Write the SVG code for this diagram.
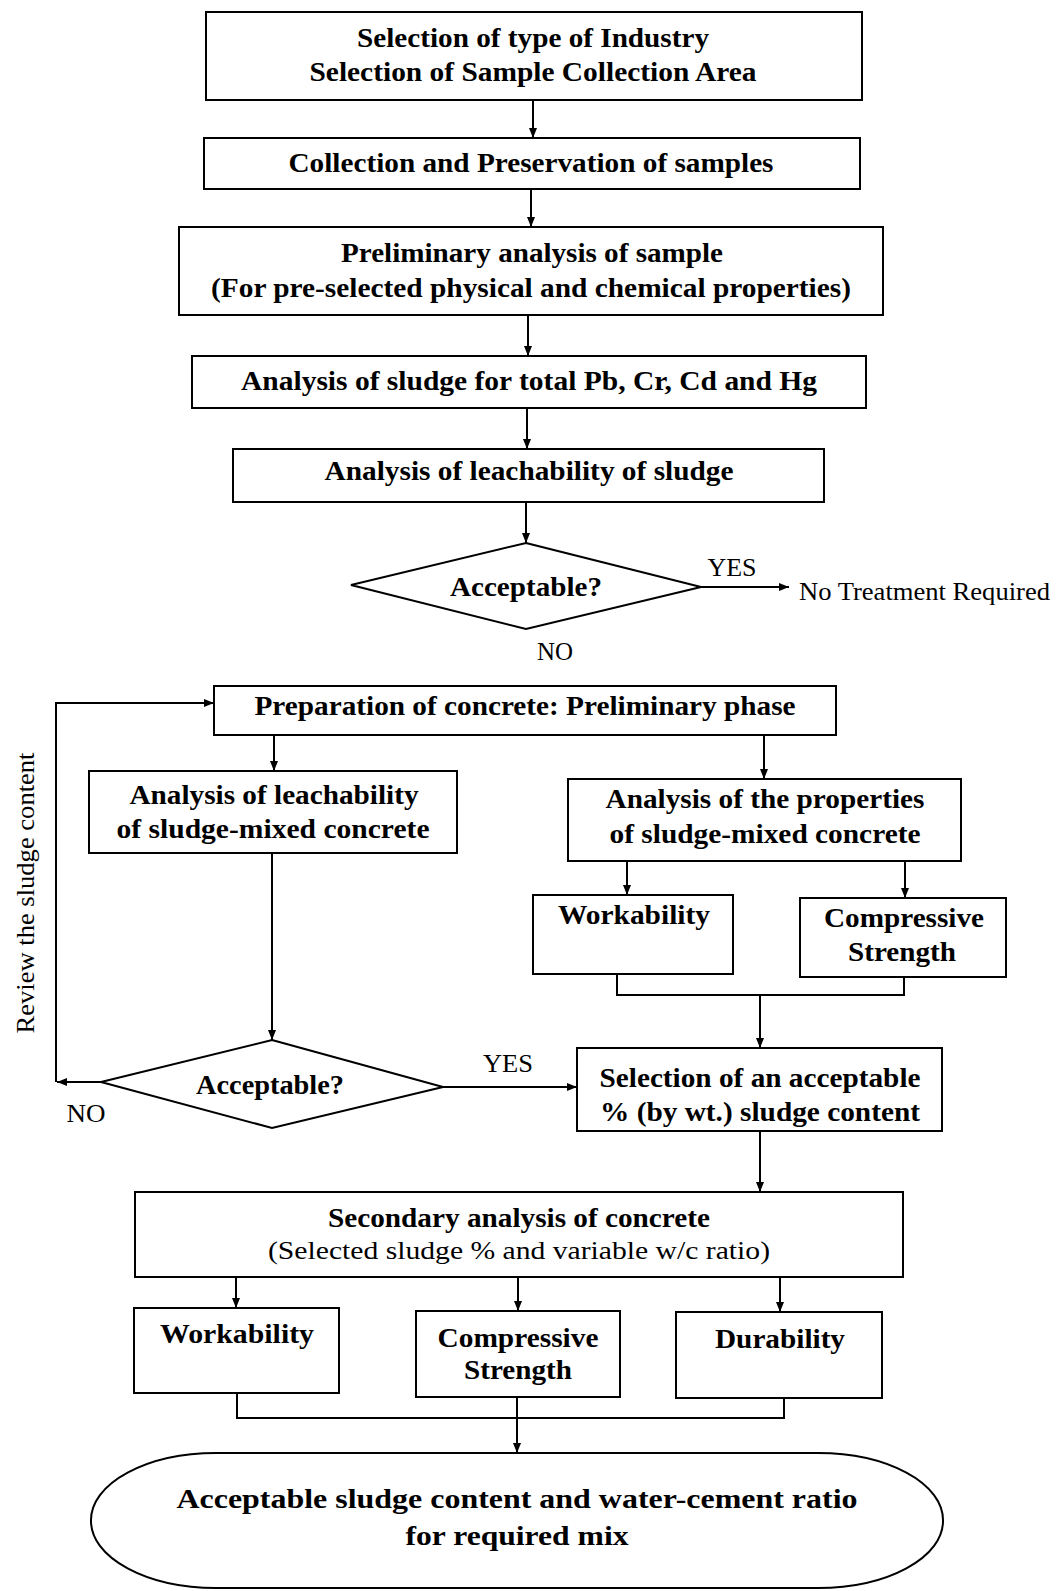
<svg xmlns="http://www.w3.org/2000/svg" width="1056" height="1591" viewBox="0 0 1056 1591">
<defs>
<style>
.b{fill:#fff;stroke:#000;stroke-width:2}
.t{font-family:"Liberation Serif","Times New Roman",serif;font-weight:bold;font-size:28px;text-anchor:middle;fill:#000}
.r{font-family:"Liberation Serif","Times New Roman",serif;font-size:25px;text-anchor:middle;fill:#000}
.c{fill:none;stroke:#000;stroke-width:2}
</style>
<marker id="ah" viewBox="0 0 10 8" refX="10" refY="4" markerWidth="11" markerHeight="8" markerUnits="userSpaceOnUse" orient="auto"><path d="M0,0 L10,4 L0,8 z" fill="#000"/></marker>
</defs>
<rect width="1056" height="1591" fill="#fff"/>

<g id="connectors">
<path class="c" d="M533 100 V138" marker-end="url(#ah)"/>
<path class="c" d="M531 189 V227" marker-end="url(#ah)"/>
<path class="c" d="M528 315 V356" marker-end="url(#ah)"/>
<path class="c" d="M527 408 V449" marker-end="url(#ah)"/>
<path class="c" d="M526 502 V543" marker-end="url(#ah)"/>
<path class="c" d="M701 587 H789" marker-end="url(#ah)"/>
<path class="c" d="M274 735 V771" marker-end="url(#ah)"/>
<path class="c" d="M764 735 V779" marker-end="url(#ah)"/>
<path class="c" d="M101 1082 H57" marker-end="url(#ah)"/>
<path class="c" d="M56 1082 V703 H214" marker-end="url(#ah)"/>
<path class="c" d="M272 853 V1040" marker-end="url(#ah)"/>
<path class="c" d="M627 861 V895" marker-end="url(#ah)"/>
<path class="c" d="M905 861 V898" marker-end="url(#ah)"/>
<path class="c" d="M617 974 V995 H904 V977"/>
<path class="c" d="M760 995 V1048" marker-end="url(#ah)"/>
<path class="c" d="M443 1087 H577" marker-end="url(#ah)"/>
<path class="c" d="M760 1131 V1192" marker-end="url(#ah)"/>
<path class="c" d="M236 1277 V1308" marker-end="url(#ah)"/>
<path class="c" d="M518 1277 V1311" marker-end="url(#ah)"/>
<path class="c" d="M780 1277 V1312" marker-end="url(#ah)"/>
<path class="c" d="M237 1393 V1418 H784 V1398"/>
<path class="c" d="M517 1397 V1453" marker-end="url(#ah)"/>
</g>

<g id="n1"><rect class="b" x="206" y="12" width="656" height="88"/>
<text class="t" x="533" y="47" textLength="352" lengthAdjust="spacingAndGlyphs">Selection of type of Industry</text>
<text class="t" x="533" y="81" textLength="447" lengthAdjust="spacingAndGlyphs">Selection of Sample Collection Area</text></g>

<g id="n2"><rect class="b" x="204" y="138" width="656" height="51"/>
<text class="t" x="531" y="172" textLength="485" lengthAdjust="spacingAndGlyphs">Collection and Preservation of samples</text></g>

<g id="n3"><rect class="b" x="179" y="227" width="704" height="88"/>
<text class="t" x="532" y="262" textLength="382" lengthAdjust="spacingAndGlyphs">Preliminary analysis of sample</text>
<text class="t" x="531" y="297" textLength="640" lengthAdjust="spacingAndGlyphs">(For pre-selected physical and chemical properties)</text></g>

<g id="n4"><rect class="b" x="192" y="356" width="674" height="52"/>
<text class="t" x="529" y="390" textLength="576" lengthAdjust="spacingAndGlyphs">Analysis of sludge for total Pb, Cr, Cd and Hg</text></g>

<g id="n5"><rect class="b" x="233" y="449" width="591" height="53"/>
<text class="t" x="529" y="480" textLength="409" lengthAdjust="spacingAndGlyphs">Analysis of leachability of sludge</text></g>

<g id="d1"><polygon class="b" points="526,543 701,587 526,629 351,585"/>
<text class="t" x="526" y="596" textLength="152" lengthAdjust="spacingAndGlyphs">Acceptable?</text></g>

<g id="labels">
<text class="r" x="732" y="576" textLength="49" lengthAdjust="spacingAndGlyphs">YES</text>
<text class="r" x="799" y="600" style="text-anchor:start" textLength="251" lengthAdjust="spacingAndGlyphs">No Treatment Required</text>
<text class="r" x="555" y="660" textLength="36" lengthAdjust="spacingAndGlyphs">NO</text>
<text class="r" x="508" y="1072" textLength="50" lengthAdjust="spacingAndGlyphs">YES</text>
<text class="r" x="86" y="1122" textLength="39" lengthAdjust="spacingAndGlyphs">NO</text>
<text class="r" transform="translate(34,893) rotate(-90)" x="0" y="0" font-size="30" textLength="281" lengthAdjust="spacingAndGlyphs">Review the sludge content</text>
</g>

<g id="n6"><rect class="b" x="214" y="686" width="622" height="49"/>
<text class="t" x="525" y="715" textLength="541" lengthAdjust="spacingAndGlyphs">Preparation of concrete: Preliminary phase</text></g>

<g id="n7"><rect class="b" x="89" y="771" width="368" height="82"/>
<text class="t" x="274" y="804" textLength="289" lengthAdjust="spacingAndGlyphs">Analysis of leachability</text>
<text class="t" x="273" y="838" textLength="313" lengthAdjust="spacingAndGlyphs">of sludge-mixed concrete</text></g>

<g id="n9"><rect class="b" x="568" y="779" width="393" height="82"/>
<text class="t" x="765" y="808" textLength="319" lengthAdjust="spacingAndGlyphs">Analysis of the properties</text>
<text class="t" x="765" y="843" textLength="311" lengthAdjust="spacingAndGlyphs">of sludge-mixed concrete</text></g>

<g id="n10"><rect class="b" x="533" y="895" width="200" height="79"/>
<text class="t" x="634" y="924" textLength="152" lengthAdjust="spacingAndGlyphs">Workability</text></g>

<g id="n11"><rect class="b" x="800" y="898" width="206" height="79"/>
<text class="t" x="904" y="927" textLength="160" lengthAdjust="spacingAndGlyphs">Compressive</text>
<text class="t" x="902" y="961" textLength="108" lengthAdjust="spacingAndGlyphs">Strength</text></g>

<g id="d2"><polygon class="b" points="272,1040 443,1087 272,1128 101,1082"/>
<text class="t" x="270" y="1094" textLength="148" lengthAdjust="spacingAndGlyphs">Acceptable?</text></g>

<g id="n8"><rect class="b" x="577" y="1048" width="365" height="83"/>
<text class="t" x="760" y="1087" textLength="321" lengthAdjust="spacingAndGlyphs">Selection of an acceptable</text>
<text class="t" x="760" y="1121" textLength="320" lengthAdjust="spacingAndGlyphs">% (by wt.) sludge content</text></g>

<g id="n12"><rect class="b" x="135" y="1192" width="768" height="85"/>
<text class="t" x="519" y="1227" textLength="382" lengthAdjust="spacingAndGlyphs">Secondary analysis of concrete</text>
<text class="r" x="519" y="1259" font-size="26" textLength="502" lengthAdjust="spacingAndGlyphs">(Selected  sludge % and variable w/c ratio)</text></g>

<g id="n13"><rect class="b" x="134" y="1308" width="205" height="85"/>
<text class="t" x="237" y="1343" textLength="154" lengthAdjust="spacingAndGlyphs">Workability</text></g>

<g id="n14"><rect class="b" x="416" y="1311" width="204" height="86"/>
<text class="t" x="518" y="1347" textLength="161" lengthAdjust="spacingAndGlyphs">Compressive</text>
<text class="t" x="518" y="1379" textLength="108" lengthAdjust="spacingAndGlyphs">Strength</text></g>

<g id="n15"><rect class="b" x="676" y="1312" width="206" height="86"/>
<text class="t" x="780" y="1348" textLength="130" lengthAdjust="spacingAndGlyphs">Durability</text></g>

<g id="n16"><rect class="b" x="91" y="1453" width="852" height="135" rx="125" ry="67"/>
<text class="t" x="517" y="1508" font-size="31" textLength="681" lengthAdjust="spacingAndGlyphs">Acceptable sludge content and water-cement ratio</text>
<text class="t" x="517" y="1545" font-size="31" textLength="223" lengthAdjust="spacingAndGlyphs">for required mix</text></g>
</svg>
